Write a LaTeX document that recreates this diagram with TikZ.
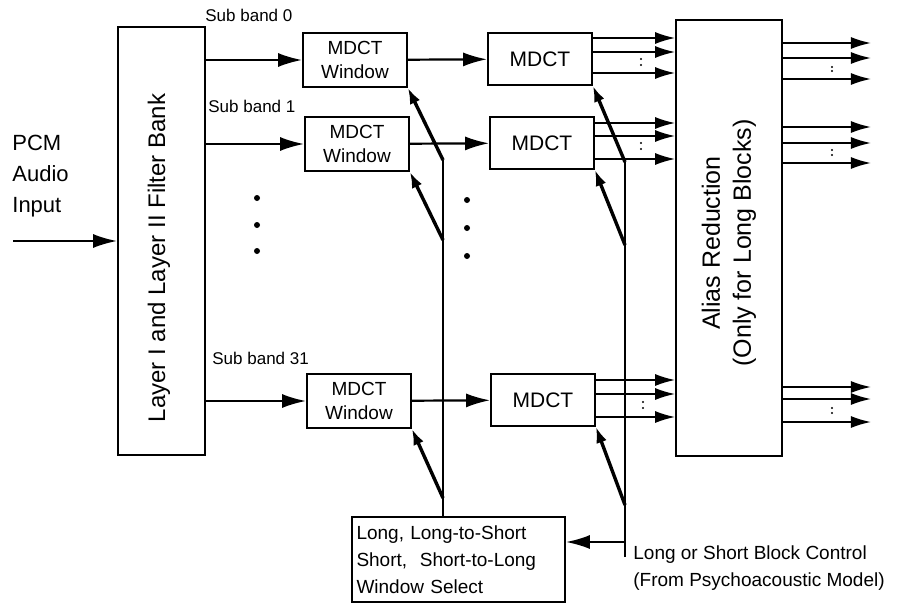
\documentclass[tikz,border=0pt]{standalone}
\usepackage{fontspec}
\setmainfont{Liberation Sans}
\usetikzlibrary{arrows.meta, positioning, calc}
\tikzset{
  block/.style={rectangle, draw=black, line width=0.9pt, align=center, inner sep=2pt},
  winblock/.style={block, minimum width=52pt, minimum height=27pt,
    font=\fontsize{9.5}{12}\selectfont},
  mdctblock/.style={block, minimum width=52pt, minimum height=26pt,
    font=\fontsize{10.5}{12}\selectfont},
  arrow/.style={-{Latex[length=12pt,width=7pt]}, line width=1.1pt},
  dblarrow/.style={-{Latex[length=10pt,width=6pt]}, line width=0.8pt},
  selarrow/.style={-{Latex[length=8pt,width=5.5pt]}, line width=1.7pt},
  line/.style={line width=0.8pt},
  band/.style={font=\fontsize{8.5}{10}\selectfont, anchor=west, inner sep=0pt},
  bigdot/.style={circle, fill=black, inner sep=0pt, minimum size=3pt},
  tinydot/.style={circle, fill=black, inner sep=0pt, minimum size=1.1pt}
}

\begin{document}
\begin{tikzpicture}[x=0.5pt, y=-0.5pt]
  \useasboundingbox (0,0) rectangle (906,605);

  % Input and filter bank
  \node[anchor=west, align=left, inner sep=0pt, font=\fontsize{11}{15.5}\selectfont] (pcm) at (12,176) {PCM\\Audio\\Input};
  \coordinate (in) at (13,241);
  \node[block, minimum width=43.5pt, minimum height=214pt] (fb) at (161.5,241) {};
  \node[rotate=90, font=\fontsize{12}{14}\selectfont] (fbtext) at (159,258) {Layer I and Layer II Filter Bank};
  \draw[arrow] (in) -- (fb);

  % Sub bands
  \node[winblock] (w0) at (355,60) {MDCT\\Window};
  \node[winblock] (w1) at (357,144) {MDCT\\Window};
  \node[winblock] (w31) at (359,401) {MDCT\\Window};
  \node[band] (sb0) at (205,15) {Sub band 0};
  \node[band] (sb1) at (208,106) {Sub band 1};
  \node[band] (sb31) at (212,358) {Sub band 31};
  \draw[arrow] (fb.east |- w0) -- (w0);
  \draw[arrow] (fb.east |- w1) -- (w1);
  \draw[arrow] (fb.east |- w31) -- (w31);
  \foreach \y in {198,225,251} \node[bigdot] at (257,\y) {};

  % MDCT blocks
  \node[mdctblock] (m0) at (540,59) {MDCT};
  \node[mdctblock] (m1) at (542,143) {MDCT};
  \node[mdctblock] (m31) at (543,400) {MDCT};
  \draw[arrow] (w0) -- (m0);
  \draw[arrow] (w1) -- (m1);
  \draw[arrow] (w31) -- (m31);
  \foreach \y in {200,228,256} \node[bigdot] at (467,\y) {};

  % Window select
  \node[block, minimum width=106.5pt, minimum height=42.5pt, text width=102pt, align=left,
    font=\fontsize{9.5}{13.5}\selectfont] (ws) at (458.5,559.5)
    {Long, Long-to-Short\\Short,\ \ Short-to-Long\\Window Select};
  \coordinate (c1top) at (443,160);
  \coordinate (c1a) at (443,240);
  \coordinate (c1b) at (443,498);
  \draw[line] (c1top |- ws.north) -- (c1top);
  \draw[selarrow] (c1top) -- (w0.south east);
  \draw[selarrow] (c1a) -- (w1.south east);
  \draw[selarrow] (c1b) -- (w31.south east);

  % Block control
  \coordinate (c2top) at (625,162);
  \coordinate (c2a) at (625,245);
  \coordinate (c2b) at (625,505);
  \coordinate (c2mid) at (625,542);
  \coordinate (c2bot) at (625,557);
  \draw[line] (c2bot) -- (c2top);
  \draw[selarrow] (c2top) -- (m0.south east);
  \draw[selarrow] (c2a) -- (m1.south east);
  \draw[selarrow] (c2b) -- (m31.south east);
  \draw[arrow] (c2mid) -- (c2mid -| ws.east);
  \node[anchor=west, align=left, inner sep=0pt, font=\fontsize{9.5}{13.5}\selectfont] (ctrl) at (633,568)
    {Long or Short Block Control\\(From Psychoacoustic Model)};

  % Alias reduction
  \node[block, minimum width=53pt, minimum height=218pt] (ar) at (729,238) {};
  \node[rotate=90, align=center, font=\fontsize{12.5}{15.5}\selectfont] (artext) at (729,243)
    {Alias Reduction\\(Only for Long Blocks)};
  \foreach \y in {38,52,73} \draw[dblarrow] (m0.east |- 0,\y) -- (ar.west |- 0,\y);
  \foreach \y in {123,136,159} \draw[dblarrow] (m1.east |- 0,\y) -- (ar.west |- 0,\y);
  \foreach \y in {380,394,417} \draw[dblarrow] (m31.east |- 0,\y) -- (ar.west |- 0,\y);
  \foreach \y in {59,65} \node[tinydot] at (641,\y) {};
  \foreach \y in {143,149} \node[tinydot] at (641,\y) {};
  \foreach \y in {402,408} \node[tinydot] at (643,\y) {};

  % Outputs
  \foreach \y in {43,58,79,127,143,163,387,399,422}
    \draw[dblarrow] (ar.east |- 0,\y) -- ++(88,0);
  \foreach \y in {67,71} \node[tinydot] at (832,\y) {};
  \foreach \y in {150,155} \node[tinydot] at (832,\y) {};
  \foreach \y in {408,413} \node[tinydot] at (832,\y) {};
\end{tikzpicture}
\end{document}
